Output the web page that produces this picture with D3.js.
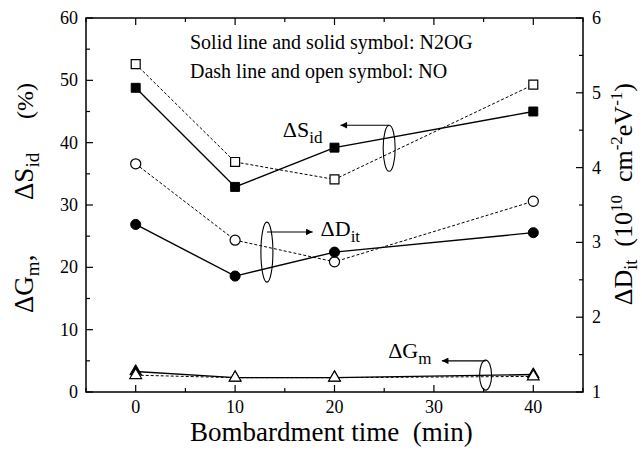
<!DOCTYPE html>
<html>
<head>
<meta charset="utf-8">
<script src="https://cdn.jsdelivr.net/npm/d3@7"></script>
</head>
<body style="margin:0; background:#fff">
<svg id="svg"></svg>
<script>
// bombardment time (min)
var times    = [0, 10, 20, 40];
// left axis (%)
var sidN2OG  = [48.8, 32.9, 39.2, 45.0];
var sidNO    = [52.6, 36.9, 34.1, 49.3];
var gmN2OG   = [3.3, 2.3, 2.3, 2.8];
var gmNO     = [2.7, 2.3, 2.3, 2.5];
// right axis (1e10 cm-2 eV-1)
var ditN2OG  = [3.24, 2.55, 2.87, 3.13];
var ditNO    = [4.05, 3.03, 2.74, 3.55];

var xTicks   = [0, 10, 20, 30, 40];
var yTicks   = [0, 10, 20, 30, 40, 50, 60];
var y2Ticks  = [1, 2, 3, 4, 5, 6];

var NB = "\u00a0";

var outer_width  = 642,
    outer_height = 457;
var margin = {top: 18, right: 59, bottom: 65, left: 86};
var width  = outer_width  - margin.left - margin.right;
var height = outer_height - margin.top  - margin.bottom;

var svg = d3.select("#svg")
    .attr("width", outer_width)
    .attr("height", outer_height);

var g = svg.append("g")
    .attr("transform", "translate(" + margin.left + "," + margin.top + ")");

var x  = d3.scaleLinear().domain([-5, 45]).range([0, width]);
var y  = d3.scaleLinear().domain([0, 60]).range([height, 0]);
var y2 = d3.scaleLinear().domain([1, 6]).range([height, 0]);

// every text goes through here, so the serif face is set on the element itself
function txt(sel, size) {
    return sel.append("text")
        .style("font-family", "'Liberation Serif'")
        .style("font-size", size + "px");
}
function piece(t, s, dy, size) {
    var ts = t.append("tspan").style("font-family", "'Liberation Serif'").text(s);
    if (dy) ts.attr("dy", dy);
    if (size) ts.style("font-size", size + "px");
    return ts;
}

// frame
g.append("rect")
    .attr("width", width).attr("height", height)
    .attr("fill", "none").attr("stroke", "#000").attr("stroke-width", 1.5);

// ticks, all pointing inward
var xMinor  = d3.range(-5, 46, 5),
    yMinor  = d3.range(0, 61, 5),
    y2Minor = d3.range(1, 6.01, 0.5);

function line(x1, y1, x2, y2_) {
    g.append("line").attr("x1", x1).attr("y1", y1).attr("x2", x2).attr("y2", y2_)
        .attr("stroke", "#000").attr("stroke-width", 1.2);
}
xMinor.forEach(function(v) {
    var len = (v % 10 === 0) ? 7 : 4;
    line(x(v), height, x(v), height - len);
    line(x(v), 0, x(v), len);
});
yMinor.forEach(function(v) {
    var len = (v % 10 === 0) ? 7 : 4;
    line(0, y(v), len, y(v));
});
y2Minor.forEach(function(v) {
    var len = (Math.abs(v - Math.round(v)) < 1e-6) ? 7 : 4;
    line(width, y2(v), width - len, y2(v));
});

// tick labels
xTicks.forEach(function(d) {
    piece(txt(g, 18).attr("x", x(d)).attr("y", height + 21)
        .attr("text-anchor", "middle"), String(d));
});
yTicks.forEach(function(d) {
    piece(txt(g, 18).attr("x", -8).attr("y", y(d) + 6)
        .attr("text-anchor", "end"), String(d));
});
y2Ticks.forEach(function(d) {
    piece(txt(g, 18).attr("x", width + 9).attr("y", y2(d) + 6)
        .attr("text-anchor", "start"), String(d));
});

// axis titles
piece(txt(svg, 27).attr("x", 190).attr("y", 441),
      "Bombardment time" + NB + NB + "(min)");

function rotText(px, py, size) {
    return txt(svg, size)
        .attr("transform", "translate(" + px + "," + py + ") rotate(-90)");
}

var l1 = rotText(33, 313, 27);
piece(l1, "\u0394G");
piece(l1, "m", 6, 19);
piece(l1, ",", -6);
var l2 = rotText(33, 200, 27);
piece(l2, "\u0394S");
piece(l2, "id", 6, 19);
piece(rotText(33, 101, 24).attr("text-anchor", "middle"), "(%)");

var r = rotText(632, 83, 26).attr("text-anchor", "end");
piece(r, "\u0394D");
piece(r, "it", 5, 18);
piece(r, NB + NB + "(10", -5);
piece(r, "10", -10, 17);
piece(r, NB + NB + "cm", 10);
piece(r, "-2", -10, 17);
piece(r, "eV", 10);
piece(r, "-1", -10, 17);
piece(r, ")", 10);

// series
function pts(vals, sc) {
    return times.map(function(t, i) { return [x(t), sc(vals[i])]; });
}
var path = d3.line();
function series(vals, sc, dashed) {
    g.append("path")
        .attr("d", path(pts(vals, sc)))
        .attr("fill", "none")
        .attr("stroke", "#000")
        .attr("stroke-width", dashed ? 1 : 1.4)
        .attr("stroke-dasharray", dashed ? "3,2" : null);
}
series(sidNO, y, true);
series(sidN2OG, y, false);
series(ditNO, y2, true);
series(ditN2OG, y2, false);
series(gmNO, y, true);
series(gmN2OG, y, false);

function markers(vals, sc, shape, filled, size) {
    var sym = d3.symbol().type(shape).size(size);
    g.selectAll(null).data(pts(vals, sc)).enter().append("path")
        .attr("d", sym)
        .attr("transform", function(p) { return "translate(" + p[0] + "," + p[1] + ")"; })
        .attr("fill", filled ? "#000" : "#fff")
        .attr("stroke", "#000")
        .attr("stroke-width", filled ? 1 : 1.2);
}
markers(sidNO, y, d3.symbolSquare, false, 80);
markers(sidN2OG, y, d3.symbolSquare, true, 80);
markers(ditNO, y2, d3.symbolCircle, false, 80);
markers(ditN2OG, y2, d3.symbolCircle, true, 80);
markers(gmN2OG, y, d3.symbolTriangle, true, 60);
markers(gmNO, y, d3.symbolTriangle, false, 60);

// legend text
piece(txt(g, 20).attr("x", 104).attr("y", 31), "Solid line and solid symbol: N2OG");
piece(txt(g, 20).attr("x", 104).attr("y", 60), "Dash line and open symbol: NO");

// annotations: ellipse + arrow + label
svg.append("defs").append("marker")
    .attr("id", "ah").attr("viewBox", "0 0 10 10")
    .attr("refX", 10).attr("refY", 5)
    .attr("markerWidth", 9).attr("markerHeight", 6)
    .attr("orient", "auto")
    .append("path").attr("d", "M0,0L10,5L0,10z").attr("fill", "#000");

function note(ex, ey, ry, ay, ax2, lx, ly, main, sub) {
    g.append("ellipse")
        .attr("cx", ex).attr("cy", ey).attr("rx", 6).attr("ry", ry)
        .attr("fill", "none").attr("stroke", "#000").attr("stroke-width", 1.1);
    g.append("line")
        .attr("x1", ex).attr("y1", ay).attr("x2", ax2).attr("y2", ay)
        .attr("stroke", "#000").attr("stroke-width", 1.1)
        .attr("marker-end", "url(#ah)");
    var t = txt(g, 22).attr("x", lx).attr("y", ly);
    piece(t, main);
    piece(t, sub, 6, 17);
}
note(x(25.5), y(39.1), 23, y(42.8), x(20.6), x(14.8), y(40.9), "\u0394S", "id");
note(x(13.2), y2(2.87), 30, y2(3.14), x(17.8), x(18.6), y2(3.09), "\u0394D", "it");
note(x(35.2), y(2.7), 15, y(5.0), x(30.8), x(25.4), y(5.5), "\u0394G", "m");
</script>
</body>
</html>
